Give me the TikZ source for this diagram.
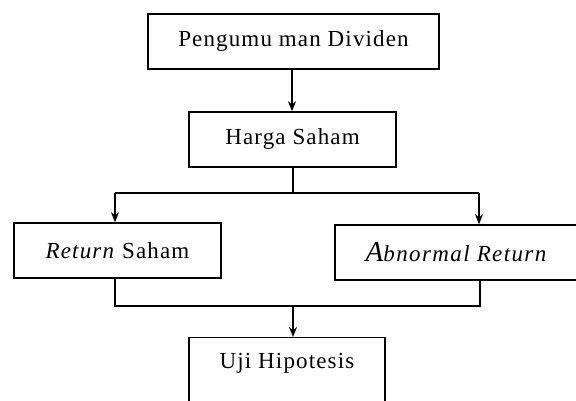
\documentclass[tikz,border=0pt]{standalone}
\usepackage{fontspec}
\setmainfont{Liberation Serif}
\usetikzlibrary{arrows.meta,calc}
\begin{document}
\begin{tikzpicture}[x=1pt,y=1pt,
  txt/.style={font=\fontsize{23}{27}\selectfont\addfontfeatures{LetterSpace=5}},
  box/.style={draw,line width=1.5pt,minimum height=55pt,inner sep=0pt,txt},
  conn/.style={line width=1.4pt},
  arr/.style={conn,-{Stealth[length=10pt,width=8pt]}}]
\clip (0,0) rectangle (576,401);
\fill[white] (0,0) rectangle (576,401);
\node[box,minimum width=291pt] (b1) at (293.5,359.5) {Pengumu man Dividen};
\node[box,minimum width=207pt] (b2) at (292.5,261.5) {Harga Saham};
\node[box,minimum width=207pt] (b3) at (117.5,150.5) {\textit{Return} Saham};
\node[box,minimum width=242pt,font=\fontsize{23}{27}\selectfont\addfontfeatures{LetterSpace=6}] (b4) at (456,148.5) {\itshape{\fontsize{29}{30}\selectfont A}bnormal Return};
\node[box,minimum width=196pt,minimum height=90pt,anchor=north] (b5) at (287,64) {};
\node[txt] (t5) at (287,38) {Uji Hipotesis};
% connectors
\draw[arr] (b1.south -| 292,0) -- (b2.north -| 292,0);
\coordinate (j1) at (293,208);
\coordinate (l1) at (115,208);
\coordinate (r1) at (479,208);
\draw[conn] (b2.south -| j1) -- (j1);
\draw[conn] (l1) -- (r1);
\draw[arr] (l1) -- (b3.north -| l1);
\draw[arr] (r1) -- (b4.north -| r1);
\coordinate (l2) at (115,95);
\coordinate (r2) at (480,95);
\coordinate (j2) at (293,95);
\draw[conn] (b3.south -| l2) -- (l2) -- (r2) -- (b4.south -| r2);
\draw[arr] (j2) -- (b5.north -| j2);
\end{tikzpicture}
\end{document}
